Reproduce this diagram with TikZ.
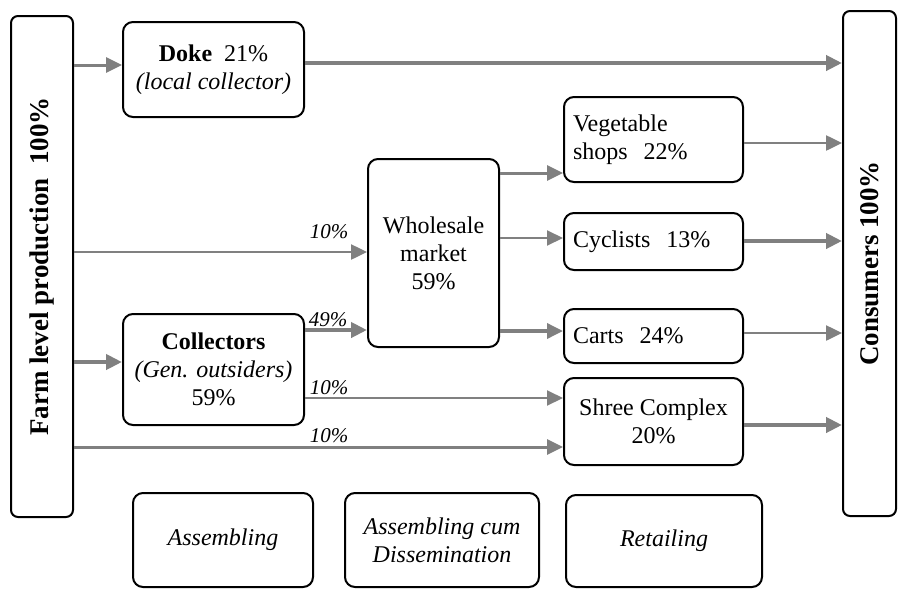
\documentclass[tikz,border=0pt]{standalone}
\usepackage{fontspec}
\setmainfont{Liberation Serif}
\usetikzlibrary{arrows.meta}
\definecolor{arrgray}{RGB}{128,128,128}
\begin{document}
\begin{tikzpicture}[x=0.5pt,y=-0.5pt,
  box/.style={draw=black, line width=1pt, rounded corners=5pt, inner sep=0pt, align=center, font=\fontsize{12}{14}\selectfont},
  lbox/.style={box, align=left, inner xsep=4.5pt, text width=80.5pt, minimum width=89.5pt},
  side/.style={draw=black, line width=1pt, rounded corners=3.5pt, inner sep=0pt, rotate=90, font=\fontsize{13.5}{16}\selectfont\bfseries},
  arr/.style={draw=arrgray, line width=1.5pt, -{Triangle[length=8pt,width=7.5pt]}},
  lbl/.style={font=\fontsize{10.5}{12}\selectfont\itshape, inner sep=0pt}
]
\useasboundingbox (0,0) rectangle (898,589);
% side boxes (rotated: south = right side, north = left side)
\node[side, minimum width=250.5pt, minimum height=31pt] (farm) at (42,266.5) {Farm level production\ \ 100\%};
\node[side, minimum width=252.5pt, minimum height=26.5pt] (cons) at (869.5,263.5) {Consumers 100\%};
% intermediaries
\node[box, minimum width=90.5pt, minimum height=47.5pt] (doke) at (213.5,69.5) {\textbf{Doke}\ \ 21\%\\\textit{(local collector)}};
\node[box, minimum width=90.5pt, minimum height=55.5pt] (coll) at (213.5,369.5) {\textbf{Collectors}\\\textit{(Gen. outsiders)}\\59\%};
\node[box, minimum width=65.5pt, minimum height=94pt] (whole) at (433.5,253) {Wholesale\\market\\59\%};
% retailers
\node[lbox, minimum height=42.5pt] (veg) at (653.5,139.5) {Vegetable\\shops\ \ 22\%};
\node[lbox, minimum height=28.5pt] (cyc) at (653.5,241.5) {Cyclists\ \ 13\%};
\node[lbox, minimum height=27pt] (cart) at (653.5,336) {Carts\ \ 24\%};
\node[box, minimum width=89.5pt, minimum height=43.5pt] (shree) at (653.5,421.5) {Shree Complex\\20\%};
% stage boxes
\node[box, minimum width=90pt, minimum height=47pt, font=\fontsize{12}{14}\selectfont\itshape] (asm) at (223,540) {Assembling};
\node[box, minimum width=97pt, minimum height=47pt, font=\fontsize{12}{14}\selectfont\itshape] (acd) at (442,540) {Assembling cum\\Dissemination};
\node[box, minimum width=98pt, minimum height=46pt, font=\fontsize{12}{14}\selectfont\itshape] (ret) at (664,541) {Retailing};
% arrows
\draw[arr] (farm.south |- 0,65) -- (doke.west |- 0,65);
\draw[arr, line width=2pt] (doke.east |- 0,63) -- (cons.north |- 0,63);
\draw[arr, line width=1.25pt] (farm.south |- 0,252) -- (whole.west |- 0,252);
\draw[arr, line width=2pt] (farm.south |- 0,362) -- (coll.west |- 0,362);
\draw[arr, line width=2pt] (coll.east |- 0,330) -- (whole.west |- 0,330);
\draw[arr, line width=1pt] (coll.east |- 0,398) -- (shree.west |- 0,398);
\draw[arr] (farm.south |- 0,447) -- (shree.west |- 0,447);
\draw[arr] (whole.east |- 0,173) -- (veg.west |- 0,173);
\draw[arr, line width=1pt] (whole.east |- 0,238) -- (cyc.west |- 0,238);
\draw[arr, line width=1.75pt] (whole.east |- 0,331) -- (cart.west |- 0,331);
\draw[arr, line width=1.25pt] (veg.east |- 0,143) -- (cons.north |- 0,143);
\draw[arr, line width=2pt] (cyc.east |- 0,241) -- (cons.north |- 0,241);
\draw[arr, line width=1.25pt] (cart.east |- 0,333) -- (cons.north |- 0,333);
\draw[arr, line width=2pt] (shree.east |- 0,425) -- (cons.north |- 0,425);
% flow labels
\node[lbl] (l1) at (329,232) {10\%};
\node[lbl] (l2) at (328,320) {49\%};
\node[lbl] (l3) at (329,388) {10\%};
\node[lbl] (l4) at (329,436) {10\%};
\end{tikzpicture}
\end{document}
